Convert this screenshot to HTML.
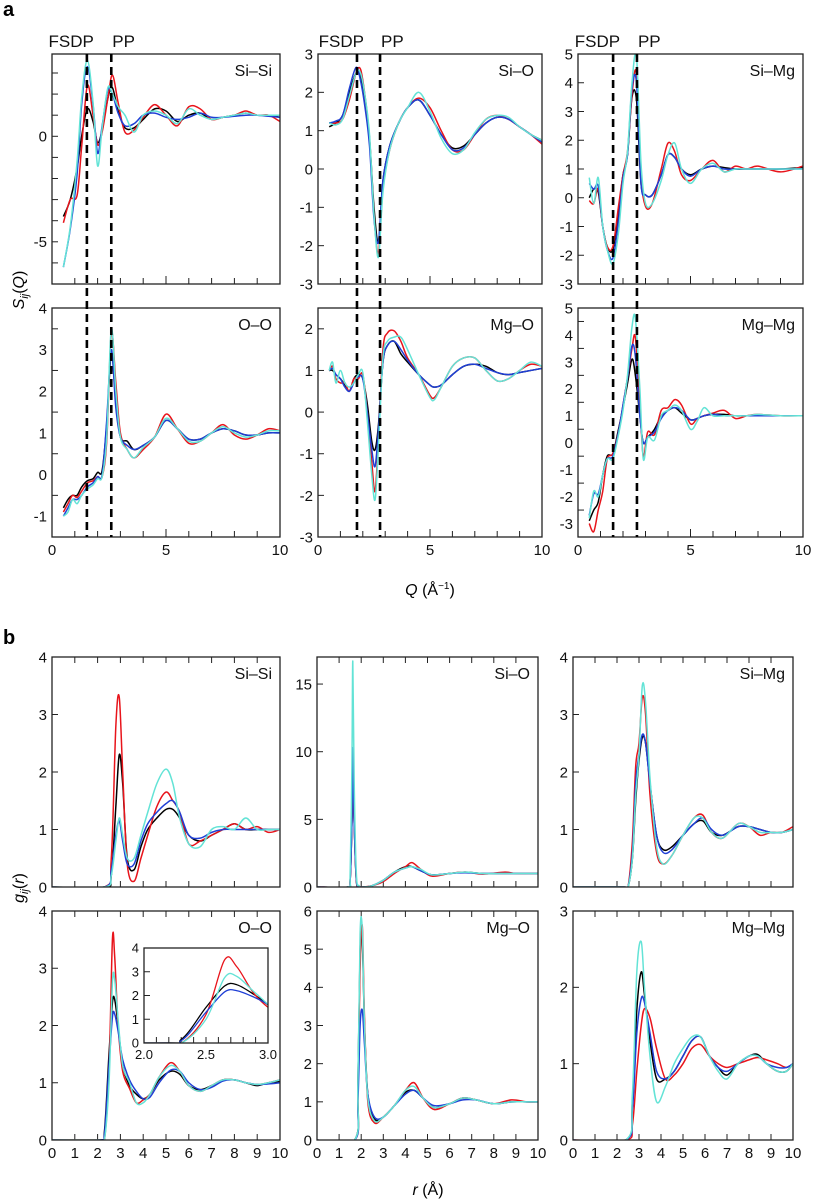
<!DOCTYPE html>
<html><head><meta charset="utf-8"><style>
body{margin:0;background:#fff}
svg{display:block;font-family:"Liberation Sans",Arial,sans-serif}
</style></head><body>
<svg id="fig" width="825" height="1203" viewBox="0 0 825 1203" xmlns="http://www.w3.org/2000/svg">
<text x="3" y="16" font-size="20" font-weight="bold">a</text>
<text x="3" y="644" font-size="20" font-weight="bold">b</text>
<text transform="translate(24,290) rotate(-90)" font-size="16" text-anchor="middle"><tspan font-style="italic">S</tspan><tspan font-style="italic" font-size="11" dy="4">ij</tspan><tspan dy="-4">(</tspan><tspan font-style="italic">Q</tspan>)</text>
<text transform="translate(24,888) rotate(-90)" font-size="16" text-anchor="middle"><tspan font-style="italic">g</tspan><tspan font-style="italic" font-size="11" dy="4">ij</tspan><tspan dy="-4">(</tspan><tspan font-style="italic">r</tspan>)</text>
<text x="430" y="595" font-size="16" text-anchor="middle"><tspan font-style="italic">Q</tspan> (Å<tspan font-size="10" dy="-6">−1</tspan><tspan dy="6">)</tspan></text>
<text x="428" y="1195" font-size="16" text-anchor="middle"><tspan font-style="italic">r</tspan> (Å)</text>
<g id="plots"></g>
</svg>
<script>
const NS="http://www.w3.org/2000/svg";
const colors=["#000000","#e8141b","#1f3fd6","#63e3d6"];
// ---- panel a data ----
const qSiSi=[0.5,0.8,1.1,1.3,1.55,1.8,2.0,2.2,2.45,2.65,2.9,3.2,3.6,4.0,4.5,5.0,5.5,6.0,6.5,7.0,7.5,8.0,8.5,9.0,9.5,10];
const sSiSiBlack=[-3.8,-3.0,-1.5,0,1.3,0.7,-0.3,0.3,1.8,2.3,1.2,0.4,0.4,0.8,1.3,1.2,0.7,1.0,1.1,0.8,0.9,1.0,1.1,1.0,1.0,0.9];
const sSiSiRed=[-4.1,-3.0,-2.8,-0.5,2.4,1.0,-0.4,0.2,1.8,2.9,1.6,0.2,0.3,0.9,1.5,1.0,0.5,1.4,1.3,0.8,0.9,1.0,1.2,1.0,1.0,0.7];
const sSiSiBlue=[-6.2,-4.4,-1.8,1.5,3.3,1.5,-0.8,0.5,2.2,2.0,1.1,0.5,0.6,1.0,1.1,0.9,0.8,0.9,1.1,0.9,0.9,0.95,1.0,1.0,0.95,0.9];
const sSiSiCyan=[-6.2,-4.3,-1.2,1.8,3.6,1.6,-1.4,0.4,2.3,2.0,1.4,1.0,0.2,1.0,1.2,1.0,0.6,1.3,1.0,0.8,0.9,1.0,1.1,1.0,1.0,1.0];
const qSiO=[0.5,0.8,1.1,1.4,1.7,1.9,2.1,2.3,2.5,2.7,2.9,3.2,3.6,4.0,4.5,5.0,5.5,6.0,6.5,7.0,7.5,8.0,8.5,9.0,9.5,10];
const sSiOBlack=[1.1,1.2,1.4,2.0,2.5,2.4,1.8,0.8,-1.0,-1.9,-0.3,0.6,1.2,1.6,1.8,1.4,0.9,0.55,0.6,0.9,1.2,1.35,1.3,1.1,0.9,0.75];
const sSiORed=[1.2,1.2,1.3,1.8,2.5,2.6,1.9,0.8,-1.2,-2.2,-0.5,0.5,1.2,1.6,1.85,1.6,1.0,0.5,0.5,0.9,1.3,1.4,1.3,1.1,0.9,0.65];
const sSiOBlue=[1.2,1.25,1.4,2.1,2.65,2.3,1.6,0.6,-1.3,-1.9,-0.3,0.6,1.2,1.6,1.8,1.4,0.9,0.5,0.55,0.9,1.2,1.35,1.3,1.1,0.9,0.7];
const sSiOCyan=[1.2,1.15,1.3,1.9,2.5,2.5,1.9,0.9,-1.2,-2.3,-0.6,0.5,1.2,1.6,2.0,1.5,0.8,0.4,0.5,0.95,1.3,1.4,1.35,1.1,0.9,0.75];
const qSiMg=[0.5,0.7,0.9,1.1,1.3,1.55,1.8,2.0,2.2,2.4,2.6,2.8,3.0,3.3,3.7,4.0,4.3,4.6,5.0,5.5,6.0,6.5,7.0,7.5,8.0,9.0,10];
const sSiMgBlack=[0.0,0.3,0.2,-1.0,-1.7,-1.8,-0.5,0.8,1.5,3.5,3.4,0.5,0.1,0.1,0.8,1.5,1.4,1.0,0.8,1.0,1.1,1.05,1.0,1.0,1.0,1.0,1.05];
const sSiMgRed=[-0.1,-0.2,0.3,-1.0,-1.7,-1.7,-0.3,0.8,1.6,3.6,4.3,0.8,-0.3,-0.2,1.0,1.9,1.6,0.8,0.6,1.0,1.3,0.9,1.1,1.0,1.1,0.9,1.1];
const sSiMgBlue=[0.5,0.3,0.4,-1.0,-1.8,-2.1,-0.8,0.7,1.5,3.8,4.0,0.5,0.1,0.1,0.8,1.5,1.4,1.0,0.75,1.0,1.1,1.0,1.0,1.0,1.0,1.0,1.0];
const sSiMgCyan=[0.7,-0.2,0.7,-1.0,-1.8,-2.3,-1.2,0.5,1.6,4.0,4.9,1.2,-0.2,-0.2,0.6,1.5,1.9,1.0,0.5,1.0,1.2,0.9,1.0,1.0,1.0,1.0,1.0];
const qOO=[0.5,0.7,0.9,1.1,1.3,1.55,1.8,2.0,2.2,2.4,2.6,2.8,3.0,3.3,3.6,4.0,4.5,5.0,5.5,6.0,6.5,7.0,7.5,8.0,8.5,9.0,9.5,10];
const sOOBlack=[-0.8,-0.6,-0.5,-0.5,-0.3,-0.15,-0.1,0.05,0.1,1.2,2.9,1.8,0.9,0.8,0.6,0.7,0.9,1.3,1.1,0.85,0.85,1.0,1.1,1.05,0.95,0.95,1.0,1.0];
const sOORed=[-0.9,-0.7,-0.5,-0.55,-0.4,-0.2,-0.15,-0.05,-0.05,0.8,3.4,2.2,1.0,0.6,0.4,0.6,0.9,1.45,1.1,0.75,0.8,1.0,1.2,0.95,0.85,0.95,1.1,1.05];
const sOOBlue=[-1.0,-0.8,-0.6,-0.6,-0.5,-0.3,-0.2,-0.05,0.0,1.3,3.0,1.6,0.9,0.7,0.6,0.7,0.9,1.3,1.1,0.85,0.85,1.0,1.1,1.05,0.95,0.95,1.0,1.0];
const sOOCyan=[-1.0,-0.9,-0.6,-0.7,-0.5,-0.35,-0.25,-0.1,-0.05,0.9,3.5,2.0,0.9,0.6,0.4,0.65,0.9,1.35,1.1,0.8,0.8,1.0,1.15,1.0,0.9,0.95,1.05,1.05];
const qMgO=[0.5,0.65,0.8,1.0,1.2,1.4,1.6,1.8,2.0,2.2,2.4,2.55,2.7,2.9,3.1,3.4,3.7,4.0,4.5,5.0,5.2,5.5,6.0,6.5,7.0,7.5,8.0,8.5,9.0,9.5,10];
const sMgOBlack=[1.0,1.0,0.9,0.8,0.65,0.5,0.8,0.9,0.8,0.2,-0.7,-0.9,-0.3,1.2,1.6,1.7,1.4,1.2,0.9,0.65,0.6,0.65,0.9,1.1,1.15,1.1,0.95,0.9,0.95,1.0,1.05];
const sMgORed=[1.0,1.1,0.8,0.7,0.7,0.5,0.8,0.8,0.9,0.0,-1.2,-1.9,-0.6,1.5,1.9,1.95,1.7,1.3,0.9,0.4,0.35,0.6,1.1,1.3,1.3,1.0,0.75,0.8,1.0,1.15,1.1];
const sMgOBlue=[1.0,1.05,0.9,0.8,0.6,0.5,0.7,0.85,0.8,0.0,-0.9,-1.3,-0.4,1.2,1.6,1.7,1.5,1.25,0.9,0.65,0.6,0.65,0.9,1.1,1.15,1.05,0.95,0.9,0.95,1.0,1.05];
const sMgOCyan=[1.0,1.2,0.7,1.0,0.7,0.6,0.7,0.9,0.95,-0.2,-1.5,-2.1,-0.8,1.3,1.7,1.8,1.8,1.5,0.9,0.35,0.3,0.6,1.1,1.3,1.3,1.0,0.75,0.8,1.0,1.2,1.1];
const qMgMg=[0.5,0.7,0.9,1.1,1.3,1.55,1.8,2.0,2.2,2.4,2.55,2.75,2.9,3.1,3.4,3.7,4.0,4.3,4.6,5.0,5.3,5.6,6.0,6.5,7.0,7.5,8.0,9.0,10];
const sMgMgBlack=[-2.9,-2.5,-2.2,-1.2,-0.5,-0.4,0.5,1.3,2.2,3.1,2.5,1.0,0.0,0.2,0.5,1.0,1.2,1.3,1.1,0.85,0.9,1.0,1.05,1.05,1.0,1.0,1.0,1.0,1.0];
const sMgMgRed=[-3.0,-3.3,-2.5,-1.8,-0.6,-0.4,0.4,1.4,2.4,3.5,3.9,1.5,-0.5,0.4,0.3,1.2,1.3,1.6,1.4,0.7,0.9,1.0,1.1,1.2,0.9,1.0,1.05,1.0,1.0];
const sMgMgBlue=[-2.7,-1.9,-1.9,-1.2,-0.6,-0.5,0.4,1.4,2.4,3.6,3.2,1.0,0.0,0.2,0.4,0.9,1.2,1.3,1.2,0.85,0.9,1.0,1.05,1.0,1.0,1.0,1.0,1.0,1.0];
const sMgMgCyan=[-2.8,-1.8,-2.0,-1.2,-0.6,-0.6,0.3,1.2,2.5,4.3,4.6,2.0,-0.6,0.2,0.1,1.0,1.2,1.4,1.2,0.5,0.8,1.3,1.0,1.0,1.0,1.0,1.05,1.0,1.0];
// ---- panel b data ----
const rSiSi=[0,2.3,2.6,2.8,2.95,3.1,3.3,3.6,3.9,4.2,4.6,5.0,5.3,5.6,6.0,6.5,7.0,7.5,8.0,8.5,9.0,9.5,10];
const gSiSiBlack=[0,0,0.2,1.4,2.3,1.8,0.5,0.3,0.7,1.0,1.2,1.35,1.35,1.2,0.9,0.8,0.9,1.0,1.1,1.0,1.0,1.0,1.0];
const gSiSiRed=[0,0,0.5,2.8,3.3,2.0,0.4,0.1,0.5,0.9,1.4,1.65,1.5,1.3,0.75,0.8,0.9,1.0,1.1,1.0,1.05,0.95,1.0];
const gSiSiBlue=[0,0,0.3,0.9,1.15,0.8,0.4,0.4,0.8,1.1,1.3,1.45,1.5,1.3,0.9,0.85,0.95,1.0,1.0,1.0,1.0,1.0,1.0];
const gSiSiCyan=[0,0,0.2,0.8,1.2,0.9,0.5,0.5,0.9,1.3,1.8,2.05,1.8,1.2,0.75,0.7,1.0,1.05,1.0,1.2,1.0,1.0,1.0];
const rSiO=[0,1.4,1.5,1.58,1.62,1.68,1.78,1.9,2.1,2.5,3.0,3.5,4.0,4.3,4.7,5.2,6.0,6.7,7.5,8.5,9.0,10];
const gSiOBlack=[0,0,0.5,5,10,5,0.5,0.05,0,0.1,0.5,1.1,1.5,1.5,1.2,0.9,1.0,1.1,1.0,1.0,1.0,1.0];
const gSiORed=[0,0,0.5,5,10.2,5,0.5,0.05,0,0.1,0.4,1.0,1.5,1.8,1.3,0.8,1.0,1.1,0.95,1.1,1.0,1.0];
const gSiOBlue=[0,0,0.5,5,10.3,5,0.6,0.05,0,0.1,0.5,1.1,1.4,1.5,1.2,0.9,1.0,1.05,1.0,1.0,1.0,1.0];
const gSiOCyan=[0,0,1,9,16.7,8,1,0.1,0,0.1,0.5,1.1,1.4,1.5,1.3,0.9,1.0,1.1,1.0,1.0,1.0,1.0];
const rSiMg=[0,2.3,2.5,2.7,2.85,3.0,3.15,3.3,3.5,3.8,4.1,4.5,5.0,5.5,5.9,6.3,6.8,7.5,8.0,8.5,9.0,9.5,10];
const gSiMgBlack=[0,0,0,0.5,1.5,2.2,2.6,2.5,1.8,0.9,0.65,0.7,0.9,1.1,1.15,0.95,0.9,1.05,1.05,1.0,0.95,0.95,1.0];
const gSiMgRed=[0,0,0,0.8,2.1,2.5,3.3,3.0,1.6,0.6,0.4,0.55,0.9,1.2,1.25,0.95,0.85,1.1,1.05,0.9,0.95,0.95,1.05];
const gSiMgBlue=[0,0,0,0.6,1.8,2.3,2.65,2.5,1.8,0.9,0.6,0.65,0.9,1.1,1.2,1.0,0.9,1.05,1.05,1.0,0.95,0.95,1.0];
const gSiMgCyan=[0,0,0,0.5,1.6,2.3,3.5,3.2,1.9,0.7,0.4,0.55,0.9,1.2,1.2,0.95,0.85,1.1,1.05,0.95,0.95,0.95,1.0];
const rOO=[0,2.1,2.3,2.5,2.65,2.75,2.9,3.1,3.4,3.7,4.0,4.3,4.7,5.2,5.6,6.0,6.5,7.0,7.5,8.0,8.5,9.0,9.5,10];
const gOOBlack=[0,0,0.15,1.5,2.4,2.45,2.0,1.3,0.95,0.8,0.72,0.8,1.05,1.2,1.15,0.95,0.88,0.95,1.05,1.05,1.0,0.95,1.0,1.02];
const gOORed=[0,0,0,1.2,3.5,3.2,2.0,1.2,0.9,0.65,0.7,0.8,1.1,1.35,1.2,0.95,0.85,0.95,1.05,1.05,1.0,0.97,1.0,1.05];
const gOOBlue=[0,0,0.1,1.3,2.15,2.2,1.9,1.4,1.05,0.85,0.72,0.75,1.0,1.22,1.2,1.0,0.88,0.92,1.03,1.05,1.0,0.97,0.98,1.0];
const gOOCyan=[0,0,0,1.0,2.75,2.8,2.1,1.3,1.0,0.65,0.65,0.8,1.1,1.3,1.2,0.95,0.85,0.95,1.05,1.05,1.0,0.97,1.0,1.05];
const rMgO=[0,1.7,1.85,1.95,2.05,2.15,2.3,2.6,3.0,3.5,4.0,4.4,4.8,5.3,6.0,6.6,7.2,8.0,8.8,9.5,10];
const gMgOBlack=[0,0,1.5,5.0,5.2,3.0,1.2,0.55,0.6,0.9,1.25,1.3,1.1,0.85,0.95,1.1,1.05,0.95,1.0,1.0,1.0];
const gMgORed=[0,0,1.2,4.5,5.6,3.2,1.0,0.45,0.6,0.9,1.3,1.5,1.1,0.8,0.95,1.1,1.05,0.95,1.05,1.0,1.0];
const gMgOBlue=[0,0,1.0,3.0,3.4,2.5,1.2,0.6,0.6,0.9,1.2,1.3,1.1,0.9,0.95,1.05,1.05,0.95,1.0,1.0,1.0];
const gMgOCyan=[0,0,1.5,5.4,5.5,3.0,1.1,0.5,0.6,0.9,1.3,1.4,1.1,0.85,0.95,1.1,1.05,0.95,1.0,1.0,1.0];
const rMgMg=[0,2.4,2.7,2.9,3.1,3.25,3.5,3.8,4.2,4.6,5.0,5.4,5.8,6.2,6.6,7.0,7.5,8.0,8.4,8.8,9.3,9.7,10];
const gMgMgBlack=[0,0,0.5,1.7,2.2,1.9,1.3,0.8,0.8,0.9,1.1,1.3,1.35,1.1,0.95,0.85,1.0,1.1,1.12,1.0,0.9,0.9,1.0];
const gMgMgRed=[0,0,0.2,0.9,1.5,1.72,1.6,1.2,0.8,0.85,1.0,1.2,1.25,1.1,1.0,0.95,1.0,1.05,1.08,1.05,1.0,0.95,1.0];
const gMgMgBlue=[0,0,0.4,1.4,1.85,1.8,1.4,0.9,0.8,0.9,1.1,1.3,1.35,1.1,0.95,0.9,1.0,1.1,1.1,1.0,0.95,0.95,1.0];
const gMgMgCyan=[0,0,0.6,2.2,2.6,2.0,1.1,0.5,0.7,1.0,1.2,1.35,1.35,1.1,0.9,0.8,1.0,1.1,1.1,1.0,0.9,0.9,1.0];
const fsdpQ=[1.53,1.74,1.56];
const ppQ=[2.6,2.77,2.62];

const root=document.getElementById('plots');
function el(tag,attrs,parent){const e=document.createElementNS(NS,tag);for(const k in attrs)e.setAttribute(k,attrs[k]);(parent||root).appendChild(e);return e;}
function smooth(pts){
  let d=`M${pts[0][0].toFixed(2)},${pts[0][1].toFixed(2)}`;
  for(let i=0;i<pts.length-1;i++){
    const p0=pts[Math.max(0,i-1)],p1=pts[i],p2=pts[i+1],p3=pts[Math.min(pts.length-1,i+2)];
    const c1=[p1[0]+(p2[0]-p0[0])/6,p1[1]+(p2[1]-p0[1])/6];
    const c2=[p2[0]-(p3[0]-p1[0])/6,p2[1]-(p3[1]-p1[1])/6];
    d+=`C${c1[0].toFixed(2)},${c1[1].toFixed(2)} ${c2[0].toFixed(2)},${c2[1].toFixed(2)} ${p2[0].toFixed(2)},${p2[1].toFixed(2)}`;
  }
  return d;
}
let clipId=0;
function panel(o){
  const g=el('g',{});
  
  
  const sx=v=>o.x0+(v-o.xmin)/(o.xmax-o.xmin)*(o.x1-o.x0);
  const sy=v=>o.y1-(v-o.ymin)/(o.ymax-o.ymin)*(o.y1-o.y0);
  const fs=o.fs||15;
  for(let t=o.xmin;t<=o.xmax+1e-9;t+=o.xminor){
    const major=o.xlabels.includes(+t.toFixed(3));
    const L=o.xmajorLen&&Math.abs(t%o.xmajorLen)<1e-6?8:6;
    el('line',{x1:sx(t),x2:sx(t),y1:o.y1,y2:o.y1-L,stroke:'#222','stroke-width':1},g);
    if(o.topTicks) el('line',{x1:sx(t),x2:sx(t),y1:o.y0,y2:o.y0+L,stroke:'#222','stroke-width':1},g);
    if(major&&o.showX){const tx=el('text',{x:sx(t),y:o.y1+fs+3,'font-size':fs,'text-anchor':'middle',fill:'#111'},g);tx.textContent=o.xfmt?o.xfmt(t):String(+t.toFixed(3));}
  }
  for(let t=o.ymin;t<=o.ymax+1e-9;t+=o.yminor){
    const v=+t.toFixed(3);
    if(Math.abs(v-o.ymin)>1e-6&&Math.abs(v-o.ymax)>1e-6) el('line',{x1:o.x0,x2:o.x0+6,y1:sy(v),y2:sy(v),stroke:'#222','stroke-width':1},g);
  }
  for(const v of o.ylabels){const ty=el('text',{x:o.x0-5,y:sy(v)+fs*0.36,'font-size':fs,'text-anchor':'end',fill:'#111'},g);ty.textContent=o.yfmt?o.yfmt(v):String(v);}
  const cid='c'+(clipId++);
  const cp=el('clipPath',{id:cid},g);el('rect',{x:o.x0,y:o.y0,width:o.x1-o.x0,height:o.y1-o.y0},cp);
  const cg=el('g',{'clip-path':`url(#${cid})`},g);
  const names=['black','red','blue','cyan'];
  o.series.forEach((ys,i)=>{
    const p=el('path',{d:smooth(o.xs.map((x,j)=>[sx(x),sy(ys[j])])),fill:'none',stroke:colors[i],'stroke-width':o.sw||1.5,'stroke-linejoin':'round'},cg);
    
    
  });
  el('rect',{x:o.x0,y:o.y0,width:o.x1-o.x0,height:o.y1-o.y0,fill:'none',stroke:'#222','stroke-width':1.3},g);
  if(o.title){const tt=el('text',{x:o.x1-8,y:o.y0+22,'font-size':16,'text-anchor':'end',fill:'#111'},g);tt.textContent=o.title;
    }
  return {sx,sy};
}
const cols=[[52,280],[318,542],[578,803]];
const rowsA=[[54,284],[308,537]];
const aDefs=[
 ['si-si-sq','Si–Si',qSiSi,[sSiSiBlack,sSiSiRed,sSiSiBlue,sSiSiCyan],-7,3.9,[0,-5],0,0],
 ['si-o-sq','Si–O',qSiO,[sSiOBlack,sSiORed,sSiOBlue,sSiOCyan],-3,3,[-3,-2,-1,0,1,2,3],1,0],
 ['si-mg-sq','Si–Mg',qSiMg,[sSiMgBlack,sSiMgRed,sSiMgBlue,sSiMgCyan],-3,5,[-3,-2,-1,0,1,2,3,4,5],2,0],
 ['o-o-sq','O–O',qOO,[sOOBlack,sOORed,sOOBlue,sOOCyan],-1.5,4,[-1,0,1,2,3,4],0,1],
 ['mg-o-sq','Mg–O',qMgO,[sMgOBlack,sMgORed,sMgOBlue,sMgOCyan],-3,2.5,[-3,-2,-1,0,1,2],1,1],
 ['mg-mg-sq','Mg–Mg',qMgMg,[sMgMgBlack,sMgMgRed,sMgMgBlue,sMgMgCyan],-3.5,5,[-3,-2,-1,0,1,2,3,4,5],2,1]];
const scales=[];
aDefs.forEach(d=>{
  const [name,title,xs,series,ymin,ymax,yl,c,r]=d;
  const s=panel({name,title,xs,series,ymin,ymax,ylabels:yl,yminor:1,xmin:0,xmax:10,xminor:1,xmajorLen:5,xlabels:[0,5,10],showX:r===1,
    x0:cols[c][0],x1:cols[c][1],y0:rowsA[r][0],y1:rowsA[r][1]});
  if(r===0)scales[c]=s;
});
for(let c=0;c<3;c++){
  const s=scales[c];
  [fsdpQ[c],ppQ[c]].forEach((q,k)=>{
    const ln=el('line',{x1:s.sx(q),x2:s.sx(q),y1:rowsA[0][0],y2:rowsA[1][1],stroke:'#000','stroke-width':2.6,'stroke-dasharray':'8,5'});
    
    
  });
  const t1=el('text',{x:s.sx(fsdpQ[c])+7,y:47,'font-size':17,'text-anchor':'end',fill:'#111'});t1.textContent='FSDP';
  
  const t2=el('text',{x:s.sx(ppQ[c])+1,y:47,'font-size':17,'text-anchor':'start',fill:'#111'});t2.textContent='PP';
  
}
const colsB=[[52,280],[317,538],[573,793]];
const rowsB=[[657,887],[911,1140]];
const xl=[0,1,2,3,4,5,6,7,8,9,10];
const bDefs=[
 ['si-si-gr','Si–Si',rSiSi,[gSiSiBlack,gSiSiRed,gSiSiBlue,gSiSiCyan],0,4,[0,1,2,3,4],1,0,0],
 ['si-o-gr','Si–O',rSiO,[gSiOBlack,gSiORed,gSiOBlue,gSiOCyan],0,17,[0,5,10,15],5,1,0],
 ['si-mg-gr','Si–Mg',rSiMg,[gSiMgBlack,gSiMgRed,gSiMgBlue,gSiMgCyan],0,4,[0,1,2,3,4],1,2,0],
 ['o-o-gr','O–O',rOO,[gOOBlack,gOORed,gOOBlue,gOOCyan],0,4,[0,1,2,3,4],1,0,1],
 ['mg-o-gr','Mg–O',rMgO,[gMgOBlack,gMgORed,gMgOBlue,gMgOCyan],0,6,[0,1,2,3,4,5,6],1,1,1],
 ['mg-mg-gr','Mg–Mg',rMgMg,[gMgMgBlack,gMgMgRed,gMgMgBlue,gMgMgCyan],0,3,[0,1,2,3],1,2,1]];
bDefs.forEach(d=>{
  const [name,title,xs,series,ymin,ymax,yl,ym,c,r]=d;
  panel({name,title,xs,series,ymin,ymax,ylabels:yl,yminor:ym,xmin:0,xmax:10,xminor:1,xlabels:xl,showX:r===1,topTicks:true,
    x0:colsB[c][0],x1:colsB[c][1],y0:rowsB[r][0],y1:rowsB[r][1]});
});
el('rect',{x:144,y:948,width:124,height:95,fill:'#fff'});
panel({name:'o-o-inset',title:'',xs:rOO,series:[gOOBlack,gOORed,gOOBlue,gOOCyan],ymin:0,ymax:4,ylabels:[0,1,2,3,4],yminor:1,
  xmin:2,xmax:3,xminor:0.1,xlabels:[2,2.5,3],xfmt:v=>v.toFixed(1),showX:true,fs:13,sw:1.3,x0:144,x1:268,y0:948,y1:1043});
</script>
</body></html>
